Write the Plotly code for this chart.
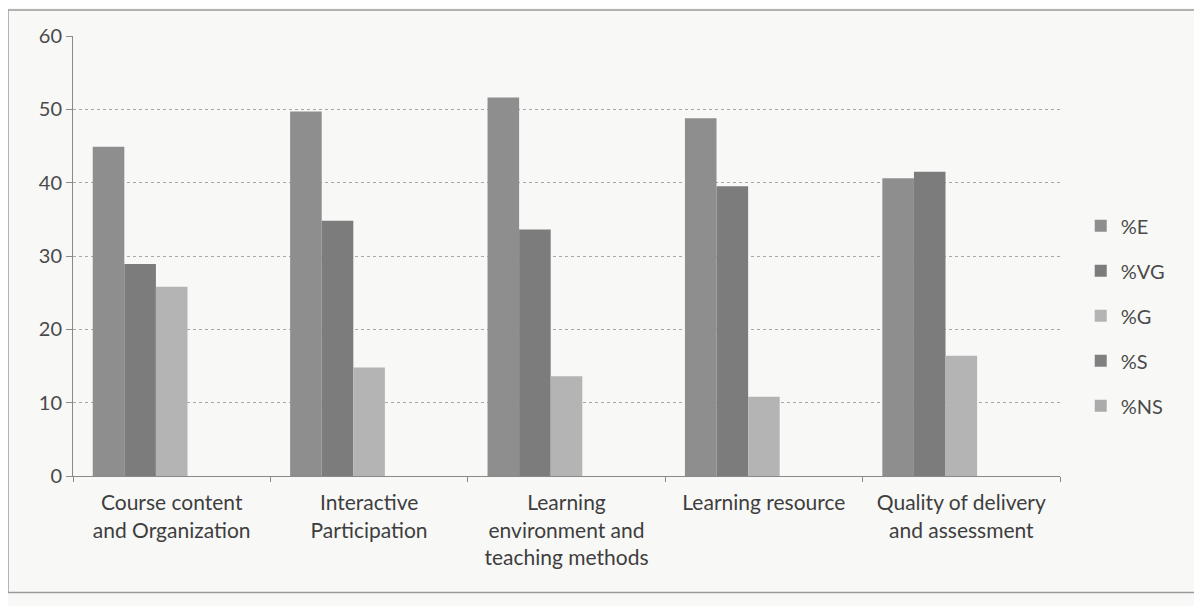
import plotly.graph_objects as go

categories = ["Course content<br>and Organization", "Interactive<br>Participation",
              "Learning<br>environment and<br>teaching methods", "Learning resource",
              "Quality of delivery<br>and assessment"]
series_names = ["%E", "%VG", "%G", "%S", "%NS"]
pct_E = [44.9, 49.7, 51.6, 48.8, 40.6]
pct_VG = [28.9, 34.8, 33.6, 39.5, 41.5]
pct_G = [25.8, 14.8, 13.6, 10.8, 16.4]
pct_S = [0, 0, 0, 0, 0]
pct_NS = [0, 0, 0, 0, 0]
y_ticks = [0, 10, 20, 30, 40, 50, 60]

colors = ["#8e8e8e", "#7c7c7c", "#b4b4b4", "#808080", "#ababab"]
values = [pct_E, pct_VG, pct_G, pct_S, pct_NS]

fig = go.Figure()
for i, (name, vals) in enumerate(zip(series_names, values)):
    fig.add_trace(go.Bar(x=categories, y=vals, name=name, marker_color=colors[i],
                         marker_line_width=0, legendgroup=name))

font = "Lato, 'Open Sans', sans-serif"
fig.update_layout(
    width=1194, height=598,
    margin=dict(l=65, r=142, t=28, b=130),
    paper_bgcolor="#f8f8f7", plot_bgcolor="#f8f8f7",
    barmode="group", bargap=0.2, bargroupgap=0,
    font=dict(family=font, size=20, color="#4a4a4a"),
    showlegend=True,
    legend=dict(x=1.021, y=0.364, yanchor="middle", xanchor="left",
                font=dict(size=20, color="#4a4a4a"), traceorder="grouped",
                tracegroupgap=16, bgcolor="rgba(0,0,0,0)"),
    xaxis=dict(showline=True, linecolor="#8a8a8a", linewidth=1, ticks="outside",
               tickson="boundaries", ticklen=5, tickcolor="#8a8a8a",
               ticklabelstandoff=8,
               tickfont=dict(size=21, color="#3e3e3e"), showgrid=False),
    yaxis=dict(range=[0, 60], tickvals=y_ticks, showline=True, linecolor="#8a8a8a",
               ticks="outside", ticklen=6, tickcolor="#8a8a8a",
               gridcolor="#a8a8a8", griddash="dot", gridwidth=1,
               tickfont=dict(size=20, color="#4a4a4a"), zeroline=False),
)
fig.add_shape(type="rect", xref="paper", yref="paper", x0=-0.0659, x1=1.1418, y0=-0.265, y1=1.059,
              line=dict(color="#9a9a9a", width=1.5), fillcolor="rgba(0,0,0,0)", layer="below")
fig.write_html("out.html")
